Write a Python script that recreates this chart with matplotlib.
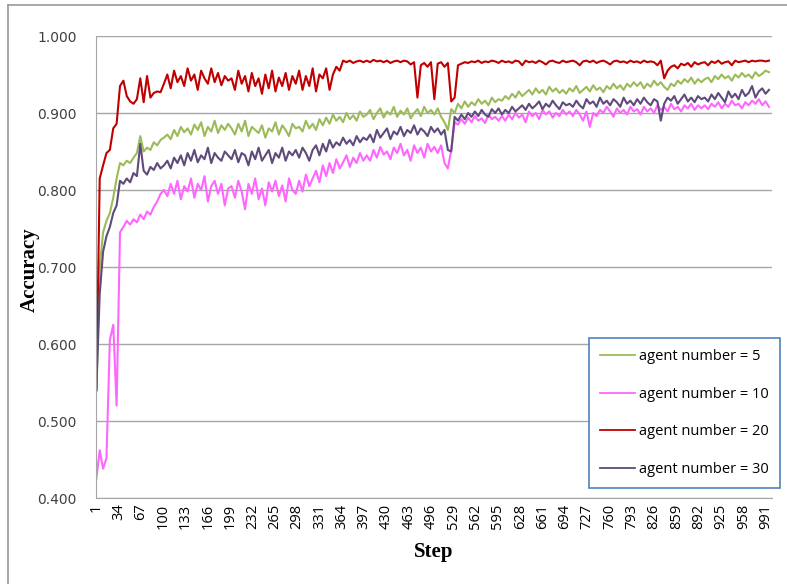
import numpy as np
import matplotlib.pyplot as plt
from matplotlib.lines import Line2D

# 横轴：每5步取一个点（1, 6, 11, ..., 996）
steps = list(range(1, 1001, 5))

# 纵轴数值（千分之一）
acc_agent5 = [
    540, 700, 745, 760, 770, 790, 815, 835, 832, 838, 835, 842, 848, 870, 850, 855, 852, 862, 858, 865,
    868, 872, 866, 878, 870, 882, 875, 880, 872, 885, 878, 888, 870, 882, 876, 890, 874, 884, 878, 886,
    880, 872, 886, 876, 890, 870, 882, 878, 874, 884, 868, 880, 876, 888, 872, 884, 878, 870, 886, 880,
    882, 876, 890, 880, 886, 878, 892, 884, 894, 886, 898, 890, 895, 888, 900, 892, 897, 890, 902, 895,
    898, 904, 892, 900, 906, 894, 902, 898, 908, 895, 903, 898, 906, 893, 900, 905, 896, 908, 900, 904,
    898, 906, 895, 888, 878, 905, 900, 912, 906, 915, 908, 914, 910, 918, 912, 916, 910, 920, 914, 918,
    916, 922, 918, 925, 920, 928, 922, 926, 930, 924, 932, 926, 930, 924, 934, 928, 932, 926, 930, 925,
    932, 928, 935, 926, 930, 934, 928, 936, 930, 933, 927, 935, 931, 938, 932, 936, 930, 938, 934, 940,
    935, 940, 932, 938, 934, 942, 936, 940, 934, 930, 938, 935, 942, 938, 944, 940, 946, 938, 944, 940,
    944, 946, 940, 948, 944, 950, 945, 948, 942, 950, 946, 952, 947, 950, 945, 953, 948, 951, 955, 953,
]
acc_agent10 = [
    425, 462, 438, 452, 605, 625, 520, 745, 752, 760, 755, 762, 758, 768, 762, 772, 768, 778, 785, 795,
    800, 792, 808, 795, 812, 788, 805, 798, 815, 790, 808, 800, 818, 785, 805, 812, 795, 808, 780, 802,
    805, 790, 812, 798, 775, 808, 795, 815, 788, 802, 780, 810, 798, 812, 792, 806, 785, 815, 800, 795,
    812, 798, 820, 805, 815, 825, 810, 832, 818, 835, 822, 840, 828, 836, 845, 830, 842, 835, 848, 838,
    845, 838, 852, 842, 856, 846, 850, 840, 855, 848, 860, 845, 852, 838, 858, 848, 855, 842, 860, 850,
    856, 848, 858, 835, 828, 852, 888, 885, 892, 886, 894, 888, 896, 890, 893, 887, 898, 892, 895, 890,
    896, 890, 898, 892, 900, 894, 898, 888, 902, 896, 900, 892, 904, 898, 902, 894, 900, 896, 904, 898,
    902, 896, 904, 898, 890, 902, 882, 900, 896, 904, 900, 908, 902, 895, 906, 900, 904, 898, 908, 902,
    905, 898, 908, 902, 906, 900, 910, 904, 908, 902, 912, 905, 908, 902, 910, 906, 912, 904, 910, 906,
    910, 905, 912, 908, 914, 906, 912, 908, 916, 910, 912, 906, 914, 910, 916, 912, 918, 910, 915, 908,
]
acc_agent20 = [
    540, 815, 832, 848, 852, 880, 886, 935, 942, 922, 915, 912, 918, 945, 914, 948, 920, 926, 928, 927,
    938, 950, 932, 955, 940, 948, 935, 958, 942, 950, 930, 955, 945, 938, 958, 940, 952, 936, 948, 942,
    945, 930, 955, 938, 948, 928, 952, 935, 945, 925, 950, 932, 955, 928, 946, 935, 952, 930, 948, 938,
    955, 930, 948, 935, 958, 928, 950, 945, 958, 930, 950, 960, 955, 968, 966, 968, 965, 967, 968, 966,
    968, 966, 969, 967, 968, 966, 968, 965, 967, 968, 966, 968, 967, 963, 966, 920, 962, 965, 960, 966,
    918, 964, 966, 960, 965, 915, 920, 962, 964, 966, 965, 967, 966, 968, 965, 967, 966, 968, 967, 965,
    968, 966, 967, 965, 968, 967, 962, 968, 966, 967, 965, 968, 966, 963, 967, 968, 966, 965, 968, 966,
    967, 968, 966, 962, 967, 968, 966, 968, 965, 967, 968, 966, 963, 967, 968, 966, 967, 965, 968, 966,
    967, 965, 968, 966, 967, 966, 962, 968, 945, 955, 960, 962, 958, 964, 962, 965, 960, 966, 963, 965,
    966, 962, 967, 965, 968, 964, 966, 967, 962, 968, 966, 967, 968, 966, 968, 967, 968, 968, 967, 968,
]
acc_agent30 = [
    540, 665, 720, 740, 752, 770, 780, 812, 808, 815, 810, 822, 818, 860, 825, 820, 830, 826, 835, 828,
    832, 838, 828, 842, 835, 845, 832, 848, 838, 852, 836, 845, 840, 855, 835, 848, 842, 838, 850, 845,
    840, 852, 836, 848, 845, 832, 850, 840, 855, 838, 845, 852, 835, 848, 842, 855, 838, 850, 845, 852,
    842, 855, 848, 838, 852, 858, 845, 860, 850, 865, 855, 862, 858, 868, 860, 865, 858, 870, 862, 868,
    865, 872, 862, 878, 868, 874, 880, 866, 876, 872, 882, 870, 878, 874, 884, 872, 880, 876, 870, 882,
    875, 880, 872, 878, 852, 850, 895, 890, 898, 892, 900, 895, 902, 896, 904, 898, 895, 905, 900, 906,
    898, 904, 900, 908, 902, 906, 910, 904, 912, 906, 910, 915, 905, 912, 908, 916, 910, 905, 914, 910,
    912, 908, 916, 910, 906, 918, 912, 915, 908, 920, 912, 916, 910, 918, 914, 908, 920, 912, 916, 910,
    918, 912, 920, 914, 910, 918, 915, 890, 912, 920, 916, 922, 912, 918, 924, 915, 920, 914, 922, 918,
    920, 915, 924, 918, 926, 920, 914, 928, 920, 925, 918, 930, 922, 926, 935, 920, 928, 932, 925, 930,
]

labels = ['agent number = 5', 'agent number = 10', 'agent number = 20', 'agent number = 30']
colors = ['#9BBB59', '#FF66FF', '#C00000', '#5F4A7B']
series = [acc_agent5, acc_agent10, acc_agent20, acc_agent30]

fig = plt.figure(figsize=(7.87, 5.84), dpi=100)
ax = fig.add_axes([96 / 787, 1 - 498 / 584, 676 / 787, 462 / 584])

for vals, c, lab in zip(series, colors, labels):
    ax.plot(steps, np.array(vals) / 1000, color=c, lw=1.5, label=lab)

ax.set_xlim(0.5, 1000.5)
ax.set_ylim(0.4, 1.0)
ax.set_yticks(np.arange(0.4, 1.001, 0.1))
ax.set_yticklabels(['%.3f' % v for v in np.arange(0.4, 1.001, 0.1)],
                   fontsize=10, color='#404040', family='DejaVu Sans')
xt = list(range(1, 1001, 33))
ax.set_xticks(xt)
ax.set_xticklabels([str(v) for v in xt], rotation=90, fontsize=10.5, family='Open Sans')
ax.tick_params(axis='both', length=0)
ax.tick_params(axis='y', pad=14)
ax.tick_params(axis='x', pad=4)
ax.grid(axis='y', color='#A6A6A6', lw=1)
ax.set_axisbelow(True)
for s in ['top', 'right']:
    ax.spines[s].set_visible(False)
for s in ['left', 'bottom']:
    ax.spines[s].set_color('#A6A6A6')

fig.text(30 / 787, 1 - 270 / 584, 'Accuracy', rotation=90, ha='center', va='center',
         fontsize=15, fontweight='bold', family='Liberation Serif')
fig.text(434 / 787, 1 - 552 / 584, 'Step', ha='center', va='center',
         fontsize=15, fontweight='bold', family='Liberation Serif')

leg = ax.legend(loc='lower right', bbox_to_anchor=(780 / 787, 1 - 488 / 584),
                bbox_transform=fig.transFigure, fancybox=False, framealpha=1,
                edgecolor='#4F81BD', prop={'family': 'Open Sans', 'size': 10.5},
                handlelength=2.4, labelspacing=1.55, borderpad=0.75, handletextpad=0.3,
                borderaxespad=0)
leg.get_frame().set_linewidth(1.2)
for line in leg.get_lines():
    line.set_linewidth(1.3)

# 外框（左边和上边）
fig.add_artist(Line2D([8 / 787, 8 / 787], [0, 1 - 5 / 584], color='#9A9A9A', lw=1.2,
                      transform=fig.transFigure))
fig.add_artist(Line2D([8 / 787, 1], [1 - 5 / 584, 1 - 5 / 584], color='#9A9A9A', lw=1.2,
                      transform=fig.transFigure))

plt.savefig('out.png')
